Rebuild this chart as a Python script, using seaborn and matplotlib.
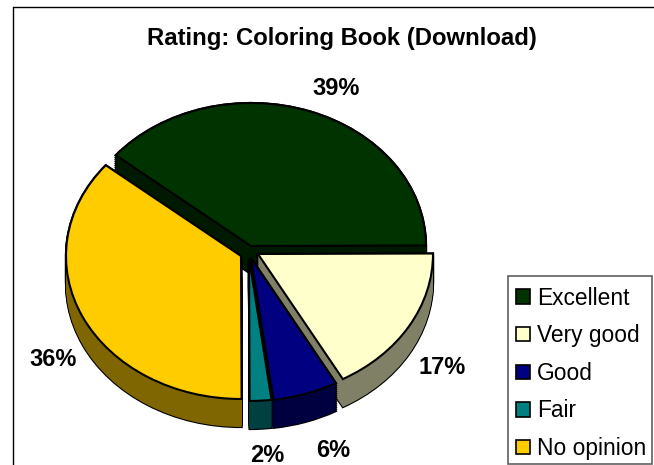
import matplotlib
matplotlib.use("Agg")
import matplotlib.pyplot as plt
from matplotlib.patches import Patch, Rectangle
from matplotlib.lines import Line2D
import seaborn as sns

categories = ["Excellent", "Very good", "Good", "Fair", "No opinion"]
values = [39, 17, 6, 2, 36]
top_hex = ["#003300", "#FFFFCC", "#000080", "#008080", "#FFCC00"]
side_hex = ["#001A00", "#808066", "#000040", "#004040", "#806600"]

sns.set_theme(style="white")
plt.rcParams["font.family"] = ["Liberation Sans", "DejaVu Sans"]
top_colors = sns.color_palette(top_hex)
side_colors = sns.color_palette(side_hex)

W, H = 654, 465
RX, RY, DEPTH = 175, 143, 28
START = 140.6
apex = {"Excellent": (251, 246), "Very good": (258, 254), "Good": (251, 258),
        "Fair": (249, 258), "No opinion": (241, 256)}
draw_order = ["Excellent", "No opinion", "Very good", "Good", "Fair"]

fig = plt.figure(figsize=(W / 100, H / 100), dpi=100)
ax = fig.add_axes([0, 0, 1, 1])

def X(px):
    return px / RX

def Y(py):
    return -py / RY

starts = {}
a = START
for c, v in zip(categories, values):
    starts[c] = a
    a -= v * 3.6

def wedge(cat, dy, face, edge, lw, z):
    v = values[categories.index(cat)]
    cx, cy = apex[cat]
    ws, _ = ax.pie([v, 100 - v], startangle=starts[cat], counterclock=False,
                   center=(X(cx), Y(cy + dy)), colors=[face, face],
                   wedgeprops=dict(edgecolor=edge, linewidth=lw, zorder=z))
    ws[1].remove()

z = 1
for cat in draw_order:
    i = categories.index(cat)
    for d in range(DEPTH, -1, -2):
        wedge(cat, d, "black", "black", 1.6, z)
    z += 1
    for d in range(DEPTH, -1, -1):
        wedge(cat, d, side_colors[i], "none", 0, z)
    z += 1
    wedge(cat, 0, top_colors[i], "black", 1.5, z)
    z += 1

ax.set_aspect("auto")
ax.set_xlim(0, W / RX)
ax.set_ylim(-H / RY, 0)
ax.set_axis_off()

label_pos = [(336, 88), (442, 367), (333, 450), (267, 455), (53, 359)]
for v, (px, py) in zip(values, label_pos):
    ax.text(X(px), Y(py), f"{v}%", ha="center", va="center", fontsize=17,
            fontweight="bold", color="black", zorder=50)

ax.text(X(342), Y(38), "Rating: Coloring Book (Download)", ha="center", va="center",
        fontsize=17.2, fontweight="bold", color="black", zorder=50)

fig.add_artist(Line2D([12.5 / W, 12.5 / W], [0, 1 - 7 / H], color="black", lw=1))
fig.add_artist(Line2D([12.5 / W, 1], [1 - 7 / H, 1 - 7 / H], color="black", lw=1))
fig.add_artist(Rectangle((507.5 / W, 1 - 464 / H), 144 / W, 188 / H, transform=fig.transFigure,
                         facecolor="white", edgecolor="#606060", linewidth=1.2, zorder=55))

handles = [Patch(facecolor=c, edgecolor="black", linewidth=1.2) for c in top_colors]
leg = fig.legend(handles, categories, loc="lower left",
                 bbox_to_anchor=(516 / W, 1 - 460 / H), bbox_transform=fig.transFigure,
                 fontsize=16.4, frameon=False, borderaxespad=0, borderpad=0, labelcolor="black",
                 labelspacing=0.64, handlelength=0.6, handleheight=0.6, handletextpad=0.32)
leg.set_zorder(60)

fig.savefig("out.png", dpi=100)
